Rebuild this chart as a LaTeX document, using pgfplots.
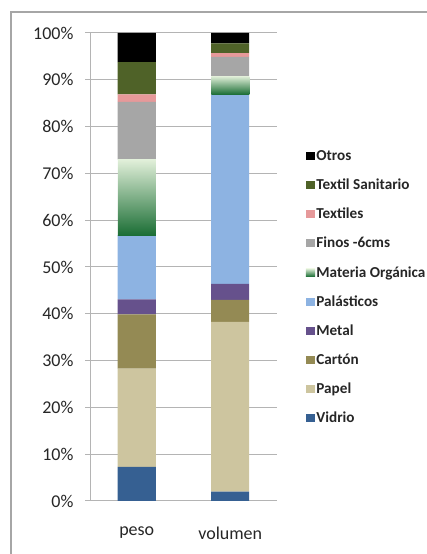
\documentclass[border=0pt]{standalone}
\usepackage{fontspec}
\setmainfont{Carlito}
\usepackage{pgfplots}
\pgfplotsset{compat=1.18}
\definecolor{cOtros}{HTML}{000000}
\definecolor{cTS}{HTML}{4F6228}
\definecolor{cTex}{HTML}{E6999A}
\definecolor{cFin}{HTML}{A6A6A6}
\definecolor{cMOt}{HTML}{E2F0DA}
\definecolor{cMOb}{HTML}{1B6E35}
\definecolor{cMO}{HTML}{5FA862}
\definecolor{cPla}{HTML}{8DB3E2}
\definecolor{cMet}{HTML}{66518C}
\definecolor{cCar}{HTML}{948A54}
\definecolor{cPap}{HTML}{CDC59F}
\definecolor{cVid}{HTML}{366092}
\definecolor{cGrid}{HTML}{B4B4B4}
\definecolor{cFrame}{HTML}{A6A6A6}
\pgfplotsset{geom/.style={
  at={(90bp,53bp)}, anchor=south west,
  scale only axis, width=187bp, height=468bp,
  ybar stacked, bar width=38bp,
  xmin=-0.5, xmax=1.5, ymin=0, ymax=100}}
\begin{document}
\begin{tikzpicture}
\useasboundingbox (0,0) rectangle (427bp,554bp);
\draw[cFrame, line width=1.2bp] (11bp,-5bp) -- (11bp,542bp) -- (440bp,542bp);
\begin{axis}[
  geom,
  axis x line*=bottom, axis y line*=left,
  axis line style={cGrid, line width=1bp},
  xtick={0,1}, xticklabels={peso,volumen},
  major x tick style={draw=none},
  extra x ticks={-0.5,0.5,1.5}, extra x tick labels={},
  extra x tick style={grid=none, tick style={draw=cGrid, line width=1bp}, major tick length=5bp},
  ytick={0,10,...,100},
  yticklabel={\pgfmathprintnumber{\tick}\%},
  ymajorgrids, grid style={cGrid, line width=1bp},
  ytick style={draw=cGrid, line width=1bp}, major tick length=5bp,
  tick align=outside,
  /pgf/number format/assume math mode=true,
  tick label style={font=\fontsize{18bp}{20bp}\selectfont, text=black!85},
  yticklabel style={xshift=-8bp},
  xticklabel style={yshift=-17bp},
  legend image code/.code={\fill[#1] (0bp,-4bp) rectangle (9.3bp,4bp);},
  reverse legend,
  legend cell align=left,
  legend style={at={(1.1535,0.752)}, anchor=north west, draw=none, fill=none,
    font=\fontsize{15.2bp}{17bp}\selectfont\bfseries, text=black!85,
    row sep=14.6bp, inner sep=0pt, nodes={inner sep=1.2bp}},
]
\addplot[fill=cVid, draw=none] coordinates {(0,7.3) (1,2.0)};
\addplot[fill=cPap, draw=none] coordinates {(0,21.0) (1,36.3)};
\addplot[fill=cCar, draw=none] coordinates {(0,11.6) (1,4.7)};
\addplot[fill=cMet, draw=none] coordinates {(0,3.2) (1,3.4)};
\addplot[fill=cPla, draw=none] coordinates {(0,13.7) (1,40.5)};
\addplot[draw=none, fill=none, legend image code/.code={\shade[top color=cMOt, bottom color=cMOb] (0bp,-4bp) rectangle (9.3bp,4bp);}] coordinates {(0,16.2) (1,3.9)};
\addplot[fill=cFin, draw=none] coordinates {(0,12.3) (1,4.1)};
\addplot[fill=cTex, draw=none] coordinates {(0,1.6) (1,0.8)};
\addplot[fill=cTS, draw=none] coordinates {(0,6.9) (1,2.1)};
\addplot[fill=cOtros, draw=none] coordinates {(0,6.2) (1,2.2)};
\legend{Vidrio,Papel,Cartón,Metal,Palásticos,Materia Orgánica,Finos -6cms,Textiles,Textil Sanitario,Otros}
\end{axis}
% Materia Organica gradient, one bar per axis so the shading spans that bar only
\begin{axis}[geom, hide axis]
\addplot[draw=none, fill=none] coordinates {(0,56.8)};
\addplot[draw=none, top color=cMOt, bottom color=cMOb] coordinates {(0,16.2)};
\end{axis}
\begin{axis}[geom, hide axis]
\addplot[draw=none, fill=none] coordinates {(1,86.9)};
\addplot[draw=none, top color=cMOt, bottom color=cMOb] coordinates {(1,3.9)};
\end{axis}
\end{tikzpicture}
\end{document}
